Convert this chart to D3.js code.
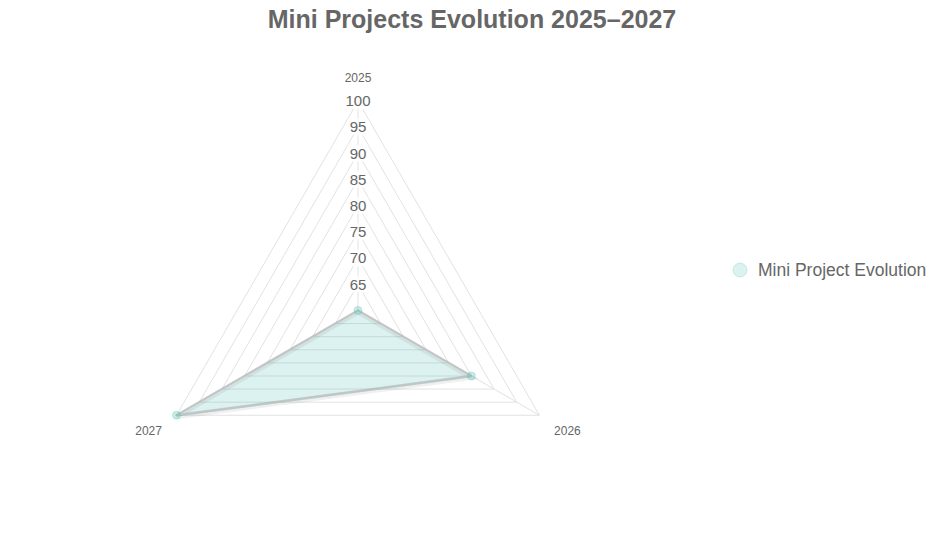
<!DOCTYPE html>
<html>
<head>
<meta charset="utf-8">
<script src="https://cdn.jsdelivr.net/npm/d3@7"></script>
<style>
  body { margin: 0; background: #fff; }
  text { font-family: "Liberation Sans", Arial, sans-serif; fill: #666; }
</style>
</head>
<body>
<svg id="chart" width="939" height="542"></svg>
<script>
// data
const years = ["2025", "2026", "2027"]
const values = [60, 85, 100]
const tickValues = [60, 65, 70, 75, 80, 85, 90, 95, 100]
const seriesName = "Mini Project Evolution"
const title = "Mini Projects Evolution 2025–2027"

const svg = d3.select("#chart")
const cx = 358, cy = 310.5, R = 209.5

const rScale = d3.scaleLinear()
  .domain([60, 100])
  .range([0, R])

const angle = i => -Math.PI / 2 + i * 2 * Math.PI / years.length
const pt = (i, v) => [cx + Math.cos(angle(i)) * rScale(v), cy + Math.sin(angle(i)) * rScale(v)]

// title
svg.append("text")
  .attr("x", 472)
  .attr("y", 28)
  .attr("text-anchor", "middle")
  .style("font-size", "25px")
  .style("font-weight", "bold")
  .text(title)

const g = svg.append("g")

// grid polygons
tickValues.slice(1).forEach(t => {
  g.append("polygon")
    .attr("points", years.map((y, i) => pt(i, t).join(",")).join(" "))
    .attr("fill", "none")
    .attr("stroke", "#e2e2e2")
    .attr("stroke-width", 1)
})

// angle lines
years.forEach((y, i) => {
  const p = pt(i, 100)
  g.append("line")
    .attr("x1", cx).attr("y1", cy)
    .attr("x2", p[0]).attr("y2", p[1])
    .attr("stroke", "#e2e2e2")
})

// data polygon
const line = d3.line().curve(d3.curveLinearClosed)
const pts = values.map((v, i) => pt(i, v))

g.append("path")
  .attr("d", line(pts))
  .attr("fill", "rgba(75,192,180,0.2)")
  .attr("stroke", "rgba(0,0,0,0.06)")
  .attr("stroke-width", 5)
  .attr("transform", "translate(0,1.5)")
g.append("path")
  .attr("d", line(pts))
  .attr("fill", "none")
  .attr("stroke", "rgba(180,185,185,0.65)")
  .attr("stroke-width", 2.5)
  .attr("stroke-linejoin", "round")

g.selectAll("circle.pt")
  .data(pts)
  .enter().append("circle")
  .attr("class", "pt")
  .attr("cx", d => d[0])
  .attr("cy", d => d[1])
  .attr("r", 4)
  .attr("fill", "rgba(75,192,180,0.3)")
  .attr("stroke", "rgba(75,192,180,0.3)")

// tick labels with backdrop
tickValues.slice(1).forEach(t => {
  const y = cy - rScale(t)
  const lbl = g.append("text")
    .attr("x", cx)
    .attr("y", y)
    .attr("dy", "0.35em")
    .attr("text-anchor", "middle")
    .style("font-size", "15px")
    .text(t)
  const bb = lbl.node().getBBox()
  g.insert("rect", "text")
    .attr("x", bb.x - 2).attr("y", bb.y)
    .attr("width", bb.width + 4).attr("height", bb.height)
    .attr("fill", "rgba(255,255,255,0.75)")
})

// point labels
const labelPos = [[0, -23, "middle"], [28, 16, "middle"], [-28, 16, "middle"]]
years.forEach((y, i) => {
  const p = pt(i, 100)
  g.append("text")
    .attr("x", p[0] + labelPos[i][0])
    .attr("y", p[1] + labelPos[i][1])
    .attr("dy", "0.35em")
    .attr("text-anchor", labelPos[i][2])
    .style("font-size", "12px")
    .text(y)
})

// legend
const lg = svg.append("g").attr("transform", "translate(740,270)")
lg.append("circle")
  .attr("r", 7)
  .attr("fill", "rgba(75,192,180,0.2)")
  .attr("stroke", "rgba(75,192,180,0.25)")
lg.append("text")
  .attr("x", 18)
  .attr("dy", "0.35em")
  .style("font-size", "17.5px")
  .text(seriesName)
</script>
</body>
</html>
